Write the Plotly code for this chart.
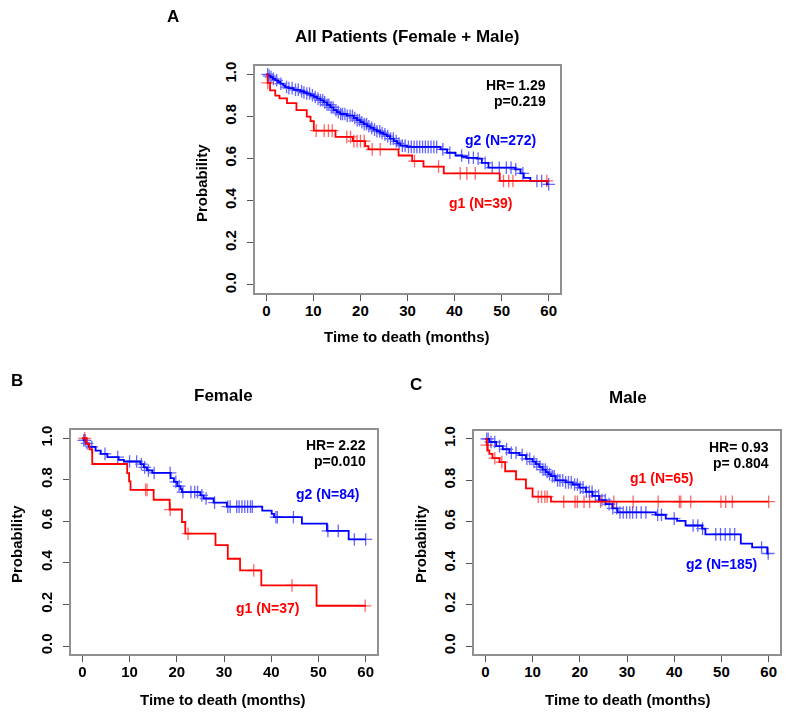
import numpy as np
import plotly.graph_objects as go

# The page body has an 8px margin, so the figure is drawn 8px smaller and all
# reference pixel positions are shifted by that offset.
OFF = 8
W, H = 792 - OFF, 718 - OFF

# ---------------- Data ----------------
# Panel A: All patients
a_g1_t = [0, 0.3, 0.8, 1.9, 2.8, 4.4, 6.4, 8.6, 9.4, 10.1, 14.7, 18.4, 21.0, 21.7, 28.1, 31.0, 33.4, 37.7, 49.6, 60]
a_g1_s = [1.0, 0.96, 0.924, 0.899, 0.886, 0.864, 0.83, 0.80, 0.778, 0.733, 0.703, 0.683, 0.659, 0.644, 0.615, 0.588, 0.562, 0.53, 0.494, 0.494]
a_g1_cens = [0.3, 10.6, 12.3, 13.2, 14.0, 17.1, 17.9, 18.6, 19.3, 20.0, 20.8, 22.5, 24.2, 31.5, 36.6, 41.2, 42.6, 44.4, 50.4, 51.5, 52.4, 59.6]

a_g2_t = [0, 0.5, 0.9, 1.4, 1.9, 2.5, 3.0, 3.6, 4.0, 4.7, 5.8, 7.2, 8.0, 8.6, 9.4, 10.1, 10.8, 11.5, 12.2, 12.9,
          13.6, 14.3, 15.0, 15.7, 17.1, 18.6, 19.3, 20.0, 20.7, 21.4, 22.1, 22.8, 23.5, 24.2, 24.9, 25.6, 26.3, 27.1,
          27.8, 28.5, 29.9, 37.0, 38.4, 40.2, 41.6, 42.6, 44.8, 45.8, 47.2, 52.9, 54.0, 54.7, 56.1, 59.6, 60]
a_g2_s = [1.0, 0.993, 0.987, 0.979, 0.972, 0.964, 0.956, 0.948, 0.94, 0.935, 0.927, 0.92, 0.914, 0.909, 0.901, 0.893,
          0.885, 0.877, 0.867, 0.856, 0.843, 0.83, 0.821, 0.812, 0.804, 0.793, 0.783, 0.773, 0.764, 0.754, 0.746, 0.738,
          0.73, 0.722, 0.715, 0.707, 0.695, 0.683, 0.672, 0.662, 0.656, 0.644, 0.628, 0.615, 0.609, 0.604, 0.60, 0.58,
          0.557, 0.549, 0.53, 0.509, 0.494, 0.478, 0.478]
a_g2_cens = [0.3, 0.6, 1.0, 1.5, 2.2, 3.1, 4.3, 4.8, 5.5, 6.2, 6.8, 7.5, 8.0, 8.6, 9.2, 9.8, 10.4, 11.0, 11.5, 12.0,
             12.4, 12.9, 13.3, 13.8, 14.2, 14.8, 15.3, 15.8, 16.2, 16.7, 17.2, 17.8, 18.3, 18.8, 19.3, 19.8, 20.3,
             20.8, 21.3, 21.8, 22.4, 23.0, 23.5, 24.1, 24.6, 25.2, 25.8, 26.4, 27.0, 27.6, 28.2, 28.9, 29.5, 30.2,
             30.8, 31.4, 32.0, 32.6, 33.2, 33.8, 34.4, 35.0, 35.6, 36.2, 37.5, 39.0, 41.5, 43.0, 44.0, 45.0, 46.5,
             48.0, 49.5, 51.0, 52.0, 53.0, 54.5, 57.5, 58.5, 60.0]

# Panel B: Female
b_g1_t = [0, 0.9, 1.5, 2.1, 9.5, 9.9, 10.2, 15.1, 18.5, 21.1, 21.8, 28.2, 30.8, 33.4, 37.9, 49.6, 60]
b_g1_s = [1.0, 0.973, 0.946, 0.876, 0.832, 0.792, 0.752, 0.704, 0.657, 0.597, 0.541, 0.486, 0.42, 0.364, 0.292, 0.194, 0.194]
b_g1_cens = [0.5, 13.4, 13.7, 18.6, 22.4, 36.3, 44.4, 59.9]

b_g2_t = [0, 0.3, 0.8, 1.4, 2.8, 3.9, 5.3, 7.7, 8.8, 12.3, 13.0, 13.7, 14.8, 18.7, 19.4, 20.1, 20.8, 21.1, 25.0, 25.7,
          27.8, 30.6, 38.1, 40.1, 40.6, 46.5, 51.8, 56.4, 60]
b_g2_s = [1.0, 0.99, 0.975, 0.958, 0.94, 0.925, 0.909, 0.896, 0.888, 0.875, 0.86, 0.845, 0.833, 0.808, 0.79, 0.77,
          0.755, 0.741, 0.725, 0.71, 0.69, 0.671, 0.652, 0.636, 0.62, 0.589, 0.554, 0.513, 0.513]
b_g2_cens = [0.3, 0.6, 1.0, 2.0, 4.8, 7.5, 10.0, 11.5, 12.5, 13.2, 14.0, 15.2, 18.6, 19.8, 20.5, 21.3, 23.0, 23.8,
             24.4, 25.3, 26.2, 28.0, 30.8, 31.3, 32.7, 33.2, 33.8, 34.4, 35.0, 35.6, 36.0, 41.0, 41.3, 44.7, 52.0,
             54.2, 57.6, 60.0]

# Panel C: Male
c_g1_t = [0, 0.3, 0.5, 0.85, 1.5, 3.0, 4.2, 6.5, 8.6, 10.0, 13.9, 60]
c_g1_s = [1.0, 0.97, 0.944, 0.928, 0.907, 0.888, 0.844, 0.805, 0.761, 0.721, 0.697, 0.697]
c_g1_cens = [0.3, 2.0, 3.5, 11.2, 11.9, 12.6, 13.1, 16.6, 19.0, 19.5, 20.9, 22.1, 24.4, 27.2, 31.3, 36.6, 41.1,
             41.4, 43.5, 49.9, 50.9, 52.3, 60.0]

c_g2_t = [0, 0.85, 2.3, 3.7, 5.1, 7.2, 8.6, 10.0, 10.7, 11.4, 12.1, 12.8, 13.4, 13.9, 14.9, 17.0, 18.5, 19.9, 21.3,
          22.7, 24.1, 25.5, 26.9, 28.0, 36.1, 38.2, 40.6, 42.4, 45.9, 46.6, 54.1, 56.5, 59.7, 60]
c_g2_s = [1.0, 0.985, 0.965, 0.95, 0.933, 0.922, 0.904, 0.89, 0.878, 0.865, 0.852, 0.84, 0.83, 0.82, 0.80, 0.79,
          0.78, 0.765, 0.745, 0.725, 0.705, 0.685, 0.665, 0.645, 0.634, 0.615, 0.604, 0.582, 0.567, 0.539, 0.495,
          0.476, 0.447, 0.447]
c_g2_cens = [0.3, 0.6, 1.2, 2.0, 3.0, 4.5, 5.5, 6.5, 7.8, 8.8, 9.4, 10.3, 10.9, 11.6, 12.2, 12.7, 13.1, 13.6, 14.2,
             14.6, 15.3, 15.8, 16.4, 17.0, 17.6, 18.2, 18.9, 19.5, 20.1, 20.7, 21.4, 22.0, 22.6, 23.3, 24.0, 24.7,
             25.4, 26.2, 27.0, 27.8, 28.5, 29.2, 29.9, 30.6, 31.2, 32.0, 33.0, 34.0, 36.5, 37.3, 40.0, 44.0, 45.0,
             46.0, 48.8, 49.8, 50.8, 51.8, 52.8, 58.5, 59.9]

x_ticks = [0, 10, 20, 30, 40, 50, 60]
y_ticks = [0.0, 0.2, 0.4, 0.6, 0.8, 1.0]
y_tick_labels = ["0.0", "0.2", "0.4", "0.6", "0.8", "1.0"]

titles = ["All Patients (Female + Male)", "Female", "Male"]
hr_texts = [("HR= 1.29", "p=0.219"), ("HR= 2.22", "p=0.010"), ("HR= 0.93", "p= 0.804")]

RED = "#ff0000"
BLUE = "#0000ff"
FONT = "Liberation Sans, Arial, sans-serif"


def surv_at(t, s, times):
    t = np.asarray(t)
    s = np.asarray(s)
    idx = np.searchsorted(t, np.asarray(times), side="right") - 1
    return s[np.clip(idx, 0, len(s) - 1)]


def PX(x):
    return (x - OFF) / W


def PY(y):
    return 1 - (y - OFF) / H


fig = go.Figure()

panels = [
    dict(ax="", t1=a_g1_t, s1=a_g1_s, c1=a_g1_cens, t2=a_g2_t, s2=a_g2_s, c2=a_g2_cens,
         xdom=[255, 560], ydom=[62.3, 291]),
    dict(ax="2", t1=b_g1_t, s1=b_g1_s, c1=b_g1_cens, t2=b_g2_t, s2=b_g2_s, c2=b_g2_cens,
         xdom=[71, 377], ydom=[428.3, 654]),
    dict(ax="3", t1=c_g1_t, s1=c_g1_s, c1=c_g1_cens, t2=c_g2_t, s2=c_g2_s, c2=c_g2_cens,
         xdom=[474, 780], ydom=[429, 654]),
]

for p in panels:
    xa, ya = "x" + p["ax"], "y" + p["ax"]
    for t, s, c, col in [(p["t2"], p["s2"], p["c2"], BLUE), (p["t1"], p["s1"], p["c1"], RED)]:
        fig.add_trace(go.Scatter(x=t, y=s, mode="lines", line=dict(color=col, width=1.8, shape="hv"),
                                 xaxis=xa, yaxis=ya, showlegend=False, hoverinfo="skip"))
        fig.add_trace(go.Scatter(x=c, y=surv_at(t, s, c), mode="markers",
                                 marker=dict(symbol="cross-thin", size=9, line=dict(color=col, width=1.3)),
                                 opacity=0.6, xaxis=xa, yaxis=ya, showlegend=False, hoverinfo="skip"))

layout = dict(width=W, height=H, margin=dict(l=0, r=0, t=0, b=0),
              paper_bgcolor="white", plot_bgcolor="white", showlegend=False,
              font=dict(family=FONT, color="black"))

for p in panels:
    xk = "xaxis" + p["ax"]
    yk = "yaxis" + p["ax"]
    layout[xk] = dict(domain=[PX(p["xdom"][0]), PX(p["xdom"][1])], range=[-2.4, 62.4],
                      anchor="y" + p["ax"], tickvals=x_ticks, ticks="outside", ticklen=6, tickwidth=1,
                      tickcolor="#555555", ticklabelstandoff=-3,
                      showline=True, mirror=True, linecolor="#909090", linewidth=1.5,
                      showgrid=False, zeroline=False,
                      tickfont=dict(family=FONT, size=15, color="black", weight="bold"))
    layout[yk] = dict(domain=[PY(p["ydom"][1]), PY(p["ydom"][0])], range=[-0.04, 1.04],
                      anchor="x" + p["ax"], tickvals=y_ticks, ticktext=y_tick_labels, tickangle=-90,
                      ticks="outside", ticklen=6, tickwidth=1, tickcolor="#555555", ticklabelstandoff=5,
                      showline=True, mirror=True, linecolor="#909090", linewidth=1.5,
                      showgrid=False, zeroline=False,
                      tickfont=dict(family=FONT, size=15, color="black", weight="bold"))

ann = []


def add_text(text, x, y, size, color="black", xanchor="center", angle=0):
    ann.append(dict(text="<b>" + text + "</b>", x=PX(x), y=PY(y), xref="paper", yref="paper",
                    showarrow=False, xanchor=xanchor, yanchor="middle", textangle=angle,
                    font=dict(family=FONT, size=size, color=color)))


# panel letters
add_text("A", 173, 13, 17)
add_text("B", 17, 379, 17)
add_text("C", 416, 383, 17)
# titles
add_text(titles[0], 407, 33, 17)
add_text(titles[1], 224, 394, 17)
add_text(titles[2], 628, 396, 17)
# axis titles
add_text("Time to death (months)", 407, 334, 15)
add_text("Time to death (months)", 223, 699, 15)
add_text("Time to death (months)", 628, 699, 15)
add_text("Probability", 201, 180, 15, angle=-90)
add_text("Probability", 17, 543, 15, angle=-90)
add_text("Probability", 421, 543, 15, angle=-90)
# HR / p
add_text(hr_texts[0][0], 548, 81, 14, xanchor="right")
add_text(hr_texts[0][1], 548, 98, 14, xanchor="right")
add_text(hr_texts[1][0], 368, 443, 14, xanchor="right")
add_text(hr_texts[1][1], 368, 460, 14, xanchor="right")
add_text(hr_texts[2][0], 771, 445, 14, xanchor="right")
add_text(hr_texts[2][1], 771, 462, 14, xanchor="right")
# group labels
add_text("g2 (N=272)", 500, 137, 14, color=BLUE)
add_text("g1 (N=39)", 480, 200, 14, color=RED)
add_text("g2 (N=84)", 327, 493, 14, color=BLUE)
add_text("g1 (N=37)", 267, 607, 14, color=RED)
add_text("g1 (N=65)", 661, 477, 14, color=RED)
add_text("g2 (N=185)", 721, 563, 14, color=BLUE)

layout["annotations"] = ann
fig.update_layout(**layout)
fig.write_html("out.html")
